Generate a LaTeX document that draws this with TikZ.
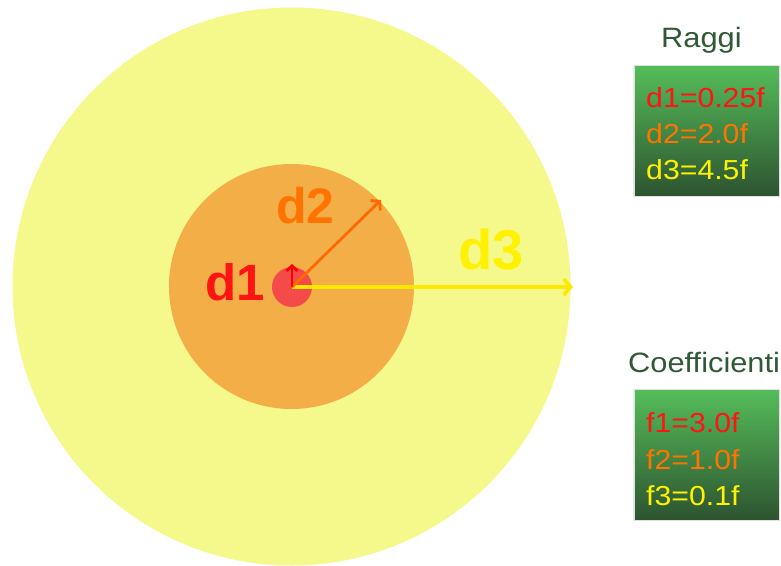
\documentclass[tikz,border=0pt]{standalone}
\usepackage{fontspec}
\setmainfont{Liberation Sans}
\newfontfamily\widefont[FakeStretch=1.1]{Liberation Sans}
\usetikzlibrary{arrows.meta}
\definecolor{ringyellow}{HTML}{F5F88A}
\definecolor{ringorange}{HTML}{F3AE47}
\definecolor{ringred}{HTML}{F44A4A}
\definecolor{txtred}{HTML}{FF1414}
\definecolor{txtorange}{HTML}{FF7400}
\definecolor{txtyellow}{HTML}{FFF200}
\definecolor{arrred}{HTML}{FF0000}
\definecolor{arrorange}{HTML}{FF6A00}
\definecolor{arryellow}{HTML}{FFE800}
\definecolor{boxtop}{HTML}{55BD5A}
\definecolor{boxbottom}{HTML}{2D5330}
\definecolor{titlegreen}{HTML}{2F5A35}
\tikzset{
  ring/.style={circle, inner sep=0pt, minimum size=#1, draw=none},
  radius label/.style={inner sep=0pt, font=\bfseries\fontsize{#1}{#1}\selectfont},
  radius arrow/.style n args={3}{line width=#1,
    -{Straight Barb[length=#2,width=#3]}},
  panel/.style={minimum width=145pt, minimum height=131pt, inner sep=0pt,
    top color=boxtop, bottom color=boxbottom, draw=black!12, line width=0.6pt},
  panel title/.style={anchor=base west, inner sep=0pt, text=titlegreen,
    font=\widefont\fontsize{28}{28}\selectfont},
  panel line/.style={anchor=base west, inner sep=0pt,
    font=\widefont\fontsize{27.5}{27.5}\selectfont}
}
\begin{document}
\begin{tikzpicture}[x=1pt, y=-1pt]
\useasboundingbox (0,0) rectangle (781,565);
\fill[white] (0,0) rectangle (781,565);

% concentric zones
\coordinate (c) at (291.5,286.5);
\node[ring=558pt, fill=ringyellow] (outer) at (c) {};
\node[ring=245pt, fill=ringorange] (middle) at (c) {};
\node[ring=40pt, fill=ringred] (inner) at (292,287) {};

% radius arrows
\coordinate (e3) at (573,287);
\coordinate (e2) at (381,200);
\coordinate (e1) at (292,264);
\coordinate (o) at (292,287);
\draw[radius arrow={3.5pt}{7pt}{16pt}, arryellow] (o) -- (e3);
\draw[radius arrow={2.8pt}{6pt}{14pt}, arrorange] (o) -- (e2);
\draw[radius arrow={2.8pt}{5pt}{11pt}, arrred] (o) -- (e1);

% radius labels
\node[radius label=51, text=txtred] (l1) at (235.5,282.5) {d1};
\node[radius label=50, text=txtorange] (l2) at (305.5,205.5) {d2};
\node[radius label=56, text=txtyellow] (l3) at (491,250) {d3};

% radii panel
\node[panel title] (t1) at (661,47) {Raggi};
\node[panel, anchor=north west] (p1) at (633.5,65) {};
\node[panel line, text=txtred] (r1) at (646,107) {d1=0.25f};
\node[panel line, text=txtorange] (r2) at (646,143.5) {d2=2.0f};
\node[panel line, text=txtyellow] (r3) at (646,179) {d3=4.5f};

% coefficients panel
\node[panel title] (t2) at (628,372) {Coefficienti};
\node[panel, anchor=north west] (p2) at (633.5,389) {};
\node[panel line, text=txtred] (f1) at (646,432) {f1=3.0f};
\node[panel line, text=txtorange] (f2) at (646,469) {f2=1.0f};
\node[panel line, text=txtyellow] (f3) at (646,505) {f3=0.1f};
\end{tikzpicture}
\end{document}
